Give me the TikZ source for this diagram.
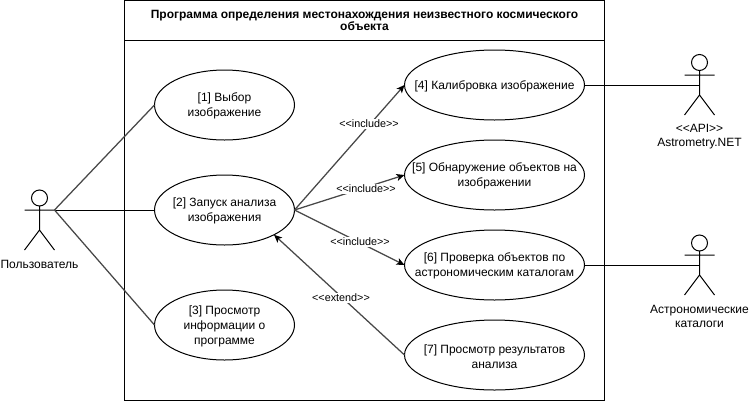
\documentclass[tikz,border=0pt]{standalone}
\usepackage{fontspec}
\setmainfont{Liberation Sans}
\usetikzlibrary{shapes.geometric,arrows.meta}
\tikzset{
  x=1pt,y=-1pt,
  every node/.style={inner sep=0pt,outer sep=0pt,text=black},
  frameline/.style={draw=black,line width=1pt},
  framebox/.style={frameline,rectangle,anchor=north west,minimum width=480pt,fill=white},
  titletext/.style={align=center,font=\bfseries\fontsize{12}{12}\selectfont},
  usecase/.style={draw=black,fill=white,line width=1pt,ellipse,minimum height=70pt},
  ucsmall/.style={usecase,minimum width=140pt},
  ucwide/.style={usecase,minimum width=180pt},
  uctext/.style={align=center,font=\fontsize{12}{15}\selectfont,yshift=-1.3pt},
  actorline/.style={draw=black,line width=1pt},
  assoc/.style={draw=black!72,line width=1.25pt},
  assocflat/.style={draw=black,line width=1pt},
  rel/.style={assoc,-{Stealth[length=8pt,width=7pt,inset=2pt,color=black,fill=black]}},
  rellabel/.style={fill=white,inner sep=1pt,font=\fontsize{10.8}{12}\selectfont},
  actorlabel/.style={align=center,font=\fontsize{12}{14}\selectfont},
  head/.style={draw=black,line width=1pt,circle,minimum size=16pt,fill=white}
}
\begin{document}
\begin{tikzpicture}
\useasboundingbox (0,0) rectangle (749,402);
\fill[white] (0,0) rectangle (749,402);
% system frame
\node[framebox,minimum height=399.5pt] (sys) at (124.5,0.5) {};
\node[framebox,minimum height=40pt,fill=none] (hdr) at (124.5,0.5) {};
\node[titletext] (title) at (364.5,20) {Программа определения местонахождения неизвестного космического\\объекта};

% use cases
\node[ucsmall] (u1) at (224.5,105) {};
\node[ucsmall] (u2) at (224.5,210) {};
\node[ucsmall] (u3) at (224.5,325) {};
\node[ucwide] (u4) at (494.5,85) {};
\node[ucwide] (u5) at (494.5,175) {};
\node[ucwide] (u6) at (494.5,265) {};
\node[ucwide] (u7) at (494.5,355) {};
\node[uctext] (t1) at (u1) {[1] Выбор\\изображение};
\node[uctext] (t2) at (u2) {[2] Запуск анализа\\изображения};
\node[uctext] (t3) at (u3) {[3] Просмотр\\информации о\\программе};
\node[uctext] (t4) at (u4) {[4] Калибровка изображение};
\node[uctext] (t5) at (u5) {[5] Обнаружение объектов на\\изображении};
\node[uctext] (t6) at (u6) {[6] Проверка объектов по\\астрономическим каталогам};
\node[uctext] (t7) at (u7) {[7] Просмотр результатов\\анализа};

% actors
\node[head] (userhead) at (39.5,198) {};
\coordinate (userhand) at (54.5,210);
\coordinate (userhandl) at (24.5,210);
\coordinate (userhip) at (39.5,230);
\coordinate (userfootl) at (24.5,250);
\coordinate (userfootr) at (54.5,250);
\draw[actorline] (userhead.south) -- (userhip) (userhandl) -- (userhand)
  (userfootl) -- (userhip) -- (userfootr);
\node[actorlabel] (userlabel) at (39.5,264.5) {Пользователь};

\node[head] (apihead) at (699.5,62.5) {};
\coordinate (apihand) at (714.5,75);
\coordinate (apihandl) at (684.5,75);
\coordinate (apihip) at (699.5,95);
\coordinate (apijoin) at (699.5,85);
\coordinate (apifootl) at (684.5,115);
\coordinate (apifootr) at (714.5,115);
\draw[actorline] (apihead.south) -- (apihip) (apihandl) -- (apihand)
  (apifootl) -- (apihip) -- (apifootr);
\node[actorlabel] (apilabel) at (699.5,137) {<{}<API>{}>\\Astrometry.NET};

\node[head] (cathead) at (699.5,243) {};
\coordinate (cathand) at (714.5,255);
\coordinate (cathandl) at (684.5,255);
\coordinate (cathip) at (699.5,275);
\coordinate (catjoin) at (699.5,265);
\coordinate (catfootl) at (684.5,295);
\coordinate (catfootr) at (714.5,295);
\draw[actorline] (cathead.south) -- (cathip) (cathandl) -- (cathand)
  (catfootl) -- (cathip) -- (catfootr);
\node[actorlabel] (catlabel) at (699.5,316.5) {Астрономические\\каталоги};

% associations
\draw[assoc] (userhand) -- (u1.west);
\draw[assocflat] (userhand) -- (u2.west);
\draw[assoc] (userhand) -- (u3.west);
\draw[assocflat] (u4.east) -- (apijoin);
\draw[assocflat] (u6.east) -- (catjoin);

% relations
\draw[rel] (u2.east) -- (u4.west);
\draw[rel] (u2.east) -- (u5.west);
\draw[rel] (u2.east) -- (u6.west);
\draw[rel] (u7.west) -- (u2.south east);
\node[rellabel] (l4) at (369,124) {<{}<include>{}>};
\node[rellabel] (l5) at (366,189) {<{}<include>{}>};
\node[rellabel] (l6) at (360,242) {<{}<include>{}>};
\node[rellabel] (l7) at (341,298) {<{}<extend>{}>};
\end{tikzpicture}
\end{document}
